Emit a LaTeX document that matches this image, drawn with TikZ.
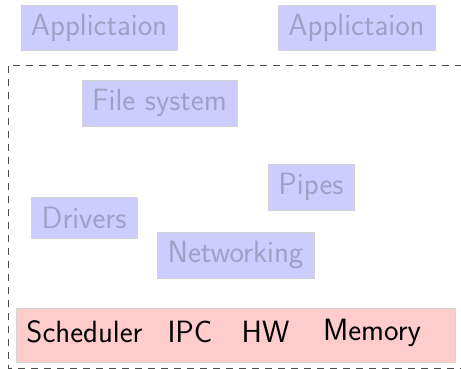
\documentclass[tikz,border=0pt]{standalone}
\usepackage{fontspec}
\definecolor{boxblue}{HTML}{CCCCFF}
\definecolor{boxred}{HTML}{FFCCCC}
\definecolor{fadetext}{HTML}{A0A0C6}
\definecolor{edgegray}{HTML}{D4D4D4}
\begin{document}
\begin{tikzpicture}[x=1pt,y=-1pt,
  bigfont/.style={font=\sffamily\fontsize{30.8}{36}\selectfont},
  layerbox/.style={bigfont, fill=boxblue, draw=edgegray, line width=0.8pt, text=fadetext, inner sep=0pt, minimum width=#1},
  corebox/.style={fill=boxred, draw=edgegray, line width=0.8pt, inner sep=0pt},
  coretext/.style={bigfont, text=black, anchor=base, inner sep=0pt},
  kernelline/.style={draw=black!70, line width=0.8pt, dash pattern=on 7pt off 6pt}]
\useasboundingbox (0,0) rectangle (461,369);
\node[layerbox=156pt, minimum height=45pt] (app1) at (99,27.5) {Applictaion};
\node[layerbox=157pt, minimum height=45pt] (app2) at (356.5,27.5) {Applictaion};
\coordinate (ktl) at (8,65);
\coordinate (kbr) at (475,368);
\draw[kernelline] (kbr |- ktl) -- (ktl) -- (ktl |- kbr) -- (kbr);
\node[layerbox=155pt, minimum height=46pt] (fs) at (159.5,103) {File system};
\node[layerbox=86pt, minimum height=46pt] (pipes) at (311,187) {Pipes};
\node[layerbox=106pt, minimum height=41pt] (drivers) at (84,217.5) {Drivers};
\node[layerbox=157pt, minimum height=46pt] (net) at (235.5,255) {Networking};
\node[corebox, minimum width=439pt, minimum height=54pt] (core) at (235.5,335) {};
\node[coretext] (sched) at (84.5,342) {Scheduler};
\node[coretext] (ipc) at (190,342) {IPC};
\node[coretext] (hw) at (265.5,342) {HW};
\node[coretext] (mem) at (372,340) {Memory};
\end{tikzpicture}
\end{document}
